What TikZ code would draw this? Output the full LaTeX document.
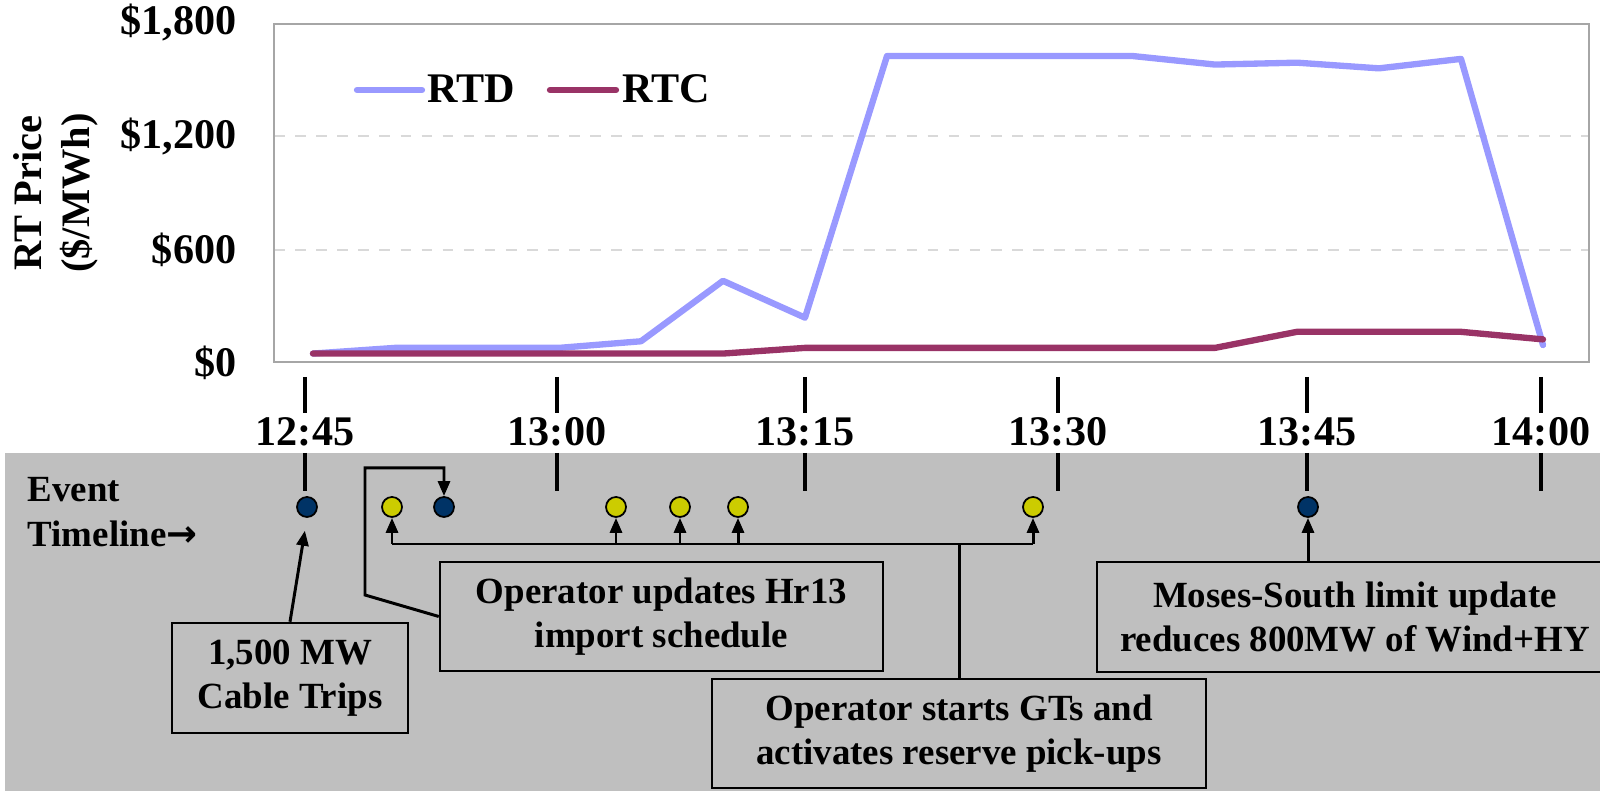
\documentclass[tikz,border=0pt]{standalone}
\usepackage{fontspec}
\setmainfont{Liberation Serif}
\newfontfamily\arrowfont{DejaVu Sans}
\usetikzlibrary{arrows.meta, positioning, calc}
\definecolor{rtdblue}{HTML}{9999FF}
\definecolor{rtcplum}{HTML}{993366}
\definecolor{panelgray}{HTML}{BFBFBF}
\definecolor{framegray}{HTML}{A6A6A6}
\definecolor{gridgray}{HTML}{D9D9D9}
\definecolor{dotnavy}{HTML}{003366}
\definecolor{dotyellow}{HTML}{CCCC00}
\tikzset{
  lbl/.style={font=\fontsize{12}{13.5}\selectfont\bfseries, inner sep=0pt},
  note/.style={font=\fontsize{10.5}{12.6}\selectfont\bfseries, inner sep=0pt},
  evbox/.style={note, draw, line width=0.7pt, fill=panelgray, align=center},
  evdot/.style={circle, draw, line width=0.5pt, minimum size=2mm, inner sep=0pt},
  link/.style={line width=0.85pt},
  ptr/.style={link, -{Triangle[width=1.2mm,length=1.5mm]}},
  tick/.style={line width=1.2pt},
  series/.style={line width=1.8pt, line cap=round, line join=round},
}
\begin{document}
\begin{tikzpicture}[x=0.1mm, y=-0.1mm]
  \useasboundingbox (0,0) rectangle (1600,791);
  % timeline panel
  \fill[panelgray] (5,453) rectangle (1600,791);
  % price chart
  \draw[gridgray, dashed, line width=0.6pt] (274,250) -- (1589,250) (274,136) -- (1589,136);
  \draw[framegray, line width=0.6pt] (274,24) rectangle (1589,362);
  \foreach \v/\t in {0/{\$0}, 600/{\$600}, 1200/{\$1,200}, 1800/{\$1,800}}
    \node[lbl, anchor=east] at (237,{363-\v*0.18889}) {\t};
  \node[lbl, font=\fontsize{11.5}{13.5}\selectfont\bfseries, rotate=90, align=center] at (56,193) {RT Price\\(\$/MWh)};
  \begin{scope}[shift={(313,363)}, x=8.2mm, y=0.018889mm]
    \draw[series, rtdblue] plot coordinates {(0,50) (1,80) (2,80) (3,80) (4,115)
      (5,435) (6,240) (7,1625) (8,1625) (9,1625) (10,1625) (11,1580) (12,1590)
      (13,1560) (14,1610) (15,95)};
    \draw[series, rtcplum] plot coordinates {(0,50) (1,50) (2,50) (3,50) (4,50)
      (5,50) (6,80) (7,80) (8,80) (9,80) (10,80) (11,80) (12,165) (13,165)
      (14,165) (15,125)};
  \end{scope}
  % legend
  \node[lbl, anchor=west] (rtdkey) at (427,89) {RTD};
  \node[lbl, anchor=west] (rtckey) at (622,89) {RTC};
  \draw[series, rtdblue] (357,90) -- (422,90);
  \draw[series, rtcplum] (550,90) -- (616,90);
  % time axis
  \foreach \x/\t in {305/12:45, 557/13:00, 805/13:15, 1058/13:30, 1307/13:45, 1541/14:00} {
    \draw[tick] (\x,377) -- (\x,413);
    \node[lbl] at (\x,432) {\t};
    \draw[tick] (\x,453) -- (\x,491);
  }
  \node[note, align=left, anchor=west] (evlabel) at (27,512)
    {Event\\Timeline{\arrowfont\bfseries →}};
  % events
  \node[evdot, fill=dotnavy] (trip) at (307,507) {};
  \node[evdot, fill=dotyellow] (gt1) at (392,507) {};
  \node[evdot, fill=dotnavy] (imp) at (444,507) {};
  \node[evdot, fill=dotyellow] (gt2) at (616,507) {};
  \node[evdot, fill=dotyellow] (gt3) at (680,507) {};
  \node[evdot, fill=dotyellow] (gt4) at (738,507) {};
  \node[evdot, fill=dotyellow] (gt5) at (1033,507) {};
  \node[evdot, fill=dotnavy] (lim) at (1308,507) {};
  \node[evbox, minimum width=23.6mm, minimum height=11mm] (tripbox) at (290,678)
    {1,500 MW\\Cable Trips};
  \node[evbox, minimum width=44.3mm, minimum height=10.9mm] (impbox) at (661.5,616.5)
    {Operator updates Hr13\\import schedule};
  \node[evbox, minimum width=49.4mm, minimum height=10.9mm] (gtbox) at (959,733.5)
    {Operator starts GTs and\\activates reserve pick-ups};
  \node[evbox, minimum width=51.6mm, minimum height=11mm] (limbox) at (1355,617)
    {Moses-South limit update\\reduces 800MW of Wind+HY};
  % connectors
  \draw[ptr, shorten >=1.3mm] (tripbox.north) -- (trip.south);
  \draw[ptr] (impbox.west) -- (365,595) -- (365,468) -| (imp.north);
  \coordinate (bus) at (0,544);
  \draw[link] (gtbox.north) -- (gtbox.north |- bus);
  \draw[link] (gt1 |- bus) -- (gt5 |- bus);
  \foreach \g in {gt1,gt2,gt3,gt4,gt5}
    \draw[ptr] (\g |- bus) -- (\g.south);
  \draw[ptr] (lim |- limbox.north) -- (lim.south);
\end{tikzpicture}
\end{document}
